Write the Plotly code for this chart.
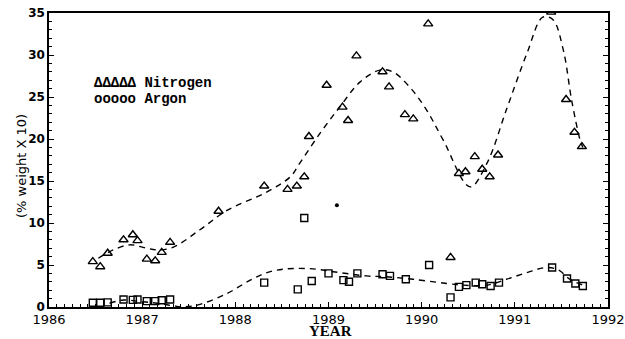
import plotly.graph_objects as go

# Nitrogen measurements (year, % weight x 10)
n2_year = [1986.47, 1986.55, 1986.63, 1986.80, 1986.90, 1986.95, 1987.05, 1987.14, 1987.21, 1987.30,
           1987.82, 1988.31, 1988.56, 1988.66, 1988.74, 1988.79, 1988.98, 1989.15, 1989.21, 1989.30,
           1989.58, 1989.65, 1989.82, 1989.91, 1990.07, 1990.31, 1990.40, 1990.47, 1990.57, 1990.65,
           1990.73, 1990.82, 1991.39, 1991.55, 1991.64, 1991.72]
n2_val = [5.4, 4.8, 6.4, 8.0, 8.6, 7.9, 5.7, 5.5, 6.5, 7.7,
          11.4, 14.4, 14.0, 14.4, 15.5, 20.3, 26.4, 23.8, 22.2, 29.9,
          28.0, 26.2, 22.9, 22.4, 33.7, 5.9, 15.9, 16.1, 17.9, 16.4,
          15.5, 18.1, 35.1, 24.7, 20.8, 19.1]

# Argon measurements
ar_year = [1986.47, 1986.55, 1986.63, 1986.80, 1986.90, 1986.95, 1987.05, 1987.14, 1987.21, 1987.30,
           1988.31, 1988.67, 1988.74, 1988.82, 1989.00, 1989.16, 1989.22, 1989.31, 1989.58, 1989.66,
           1989.83, 1990.08, 1990.31, 1990.40, 1990.48, 1990.58, 1990.65, 1990.74, 1990.83, 1991.40,
           1991.56, 1991.65, 1991.73]
ar_val = [0.5, 0.5, 0.55, 0.9, 0.85, 0.9, 0.7, 0.7, 0.8, 0.9,
          2.9, 2.1, 10.6, 3.1, 4.0, 3.2, 3.0, 4.0, 3.9, 3.7,
          3.3, 5.0, 1.15, 2.4, 2.6, 2.9, 2.7, 2.5, 2.9, 4.7,
          3.4, 2.8, 2.5]

# Smoothed fit curves
n2_fit_year = [1986.53, 1986.69, 1986.87, 1987.01, 1987.16, 1987.33, 1987.62, 1987.91, 1988.34, 1988.59,
               1988.69, 1988.91, 1989.12, 1989.34, 1989.55, 1989.69, 1989.87, 1990.05, 1990.23, 1990.52,
               1990.70, 1990.91, 1991.13, 1991.30, 1991.41, 1991.52, 1991.61, 1991.70, 1991.73]
n2_fit_val = [5.8, 6.8, 7.4, 7.1, 6.8, 7.1, 9.2, 11.5, 13.7, 15.5,
              17.1, 20.7, 23.8, 26.8, 28.2, 28.0, 26.2, 23.5, 19.9, 14.3,
              17.1, 23.5, 30.2, 34.5, 34.2, 30.6, 24.6, 19.9, 19.0]

ar_fit_year = [1986.65, 1986.80, 1986.98, 1987.16, 1987.33, 1987.45, 1987.60, 1987.91, 1988.16, 1988.34,
               1988.51, 1988.69, 1988.87, 1989.05, 1989.41, 1989.62, 1989.91, 1990.27, 1990.45, 1990.70,
               1990.91, 1991.13, 1991.34, 1991.47, 1991.59, 1991.73]
ar_fit_val = [0.45, 0.83, 0.65, 0.45, 0.15, 0.02, 0.25, 1.6, 3.2, 4.1,
              4.5, 4.6, 4.5, 4.2, 3.7, 3.6, 3.3, 2.8, 2.6, 2.6,
              3.3, 4.1, 4.7, 4.4, 3.3, 2.6]

stray_year = [1989.09]
stray_val = [12.1]

x_ticks = [1986, 1987, 1988, 1989, 1990, 1991, 1992]
y_ticks = [0, 5, 10, 15, 20, 25, 30, 35]

fig = go.Figure()
fig.add_trace(go.Scatter(x=n2_fit_year, y=n2_fit_val, mode="lines",
                         line=dict(color="black", width=1.4, dash="6px,5px", shape="spline", smoothing=1.0),
                         hoverinfo="skip"))
fig.add_trace(go.Scatter(x=ar_fit_year, y=ar_fit_val, mode="lines",
                         line=dict(color="black", width=1.4, dash="6px,5px", shape="spline", smoothing=1.0),
                         hoverinfo="skip"))
fig.add_trace(go.Scatter(x=n2_year, y=n2_val, mode="markers", name="Nitrogen",
                         marker=dict(symbol="triangle-up-open", size=8, color="black", line=dict(width=1.4))))
fig.add_trace(go.Scatter(x=ar_year, y=ar_val, mode="markers", name="Argon",
                         marker=dict(symbol="square-open", size=7, color="black", line=dict(width=1.4))))
fig.add_trace(go.Scatter(x=stray_year, y=stray_val, mode="markers",
                         marker=dict(symbol="circle", size=4, color="black")))

# legend-like text block
fig.add_annotation(xref="paper", yref="paper", x=0.077, y=0.762, xanchor="left", yanchor="middle",
                   showarrow=False, text="<b>ΔΔΔΔΔ Nitrogen</b>",
                   font=dict(family="Liberation Mono", size=14, color="black"))
fig.add_annotation(xref="paper", yref="paper", x=0.077, y=0.707, xanchor="left", yanchor="middle",
                   showarrow=False, text="<b>ooooo Argon</b>",
                   font=dict(family="Liberation Mono", size=14, color="black"))
# axis titles
fig.add_annotation(xref="paper", yref="paper", x=-0.048, y=0.48, xanchor="center", yanchor="middle",
                   showarrow=False, textangle=-90, text="(% weight X 10)",
                   font=dict(family="DejaVu Sans", size=13, color="black"))
fig.add_annotation(xref="paper", yref="paper", x=0.503, y=-0.083, xanchor="center", yanchor="middle",
                   showarrow=False, text="<b>YEAR</b>",
                   font=dict(family="Liberation Serif", size=15, color="black"))

fig.update_layout(
    width=625, height=339,
    margin=dict(l=49, r=17, t=13, b=32, autoexpand=False),
    paper_bgcolor="white", plot_bgcolor="white",
    showlegend=False,
    xaxis=dict(range=[1986, 1992], tickvals=x_ticks, ticktext=[str(v) for v in x_ticks],
               automargin=False, ticklabeloverflow="allow",
               showgrid=False, zeroline=False, showline=True, linecolor="black", linewidth=1.5,
               mirror=True, ticks="inside", ticklen=5, tickcolor="black",
               minor=dict(dtick=1/12, ticks="inside", ticklen=3, tickcolor="black"),
               tickfont=dict(family="DejaVu Sans", size=13, color="black")),
    yaxis=dict(range=[0, 35], tickvals=y_ticks, showgrid=False, zeroline=False,
               automargin=False, ticklabeloverflow="allow",
               showline=True, linecolor="black", linewidth=1.5, mirror="ticks",
               ticks="inside", ticklen=5, tickcolor="black",
               minor=dict(dtick=1, ticks="inside", ticklen=3, tickcolor="black"),
               tickfont=dict(family="DejaVu Sans", size=12, color="black", weight="bold")),
)

# remove the default page margin so the 625x339 figure fills the window exactly
fig.write_html("out.html", config={"displayModeBar": False},
               post_script="document.body.style.margin='0px';document.body.style.overflow='hidden';")
